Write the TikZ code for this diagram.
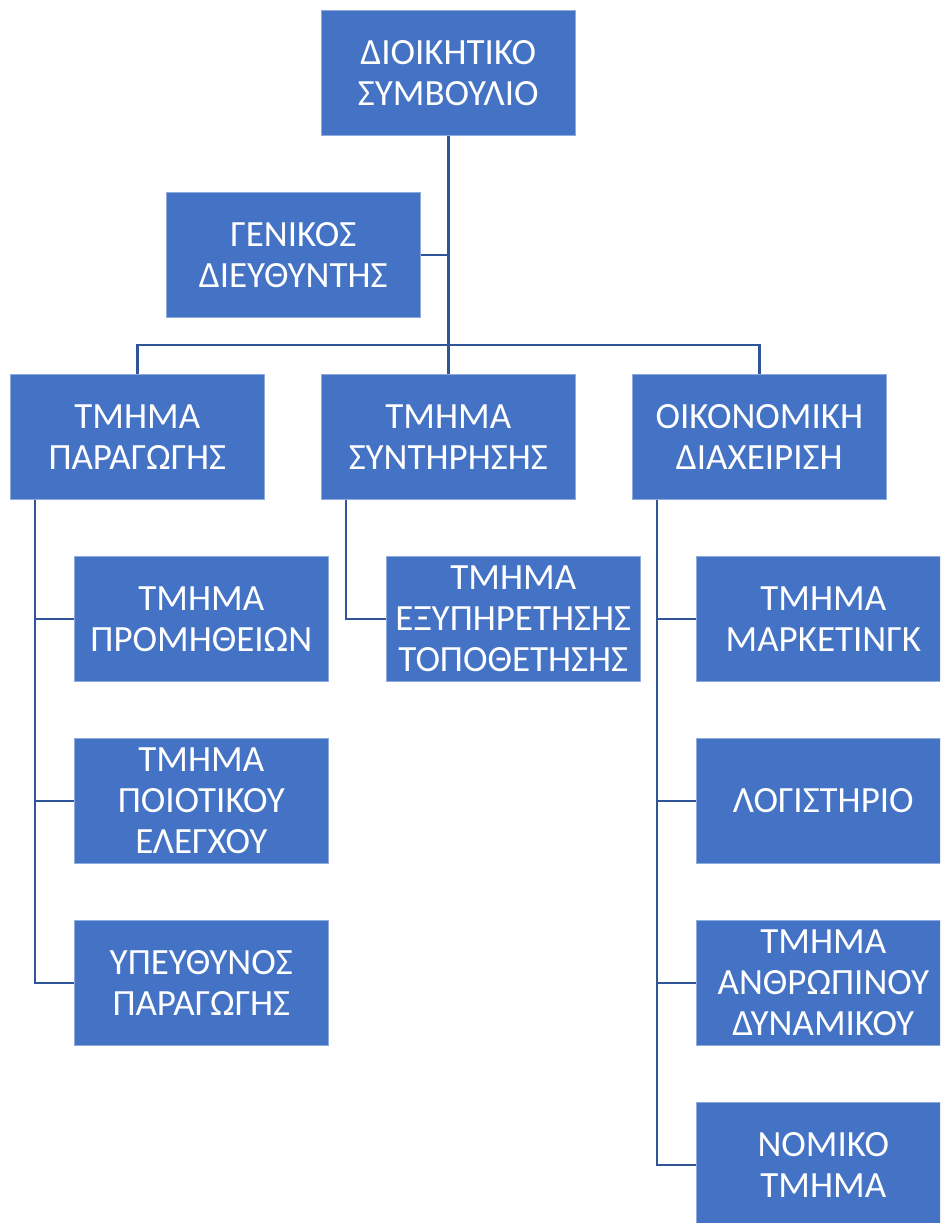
\documentclass[tikz,border=0pt]{standalone}
\usepackage{fontspec}
\setmainfont{Carlito}
\usetikzlibrary{calc}
\definecolor{boxblue}{HTML}{4472C4}
\definecolor{lineblue}{HTML}{2F5597}
\tikzset{
  orgbox/.style={fill=boxblue, draw=boxblue!60!white, line width=0.6pt, text=white, anchor=north west,
    minimum width=254pt, minimum height=125pt, inner sep=0pt, align=center,
    font=\fontsize{37}{41}\selectfont},
  conn/.style={draw=lineblue, line width=2.6pt}
}
\begin{document}
\begin{tikzpicture}[x=1pt,y=-1pt]
\clip (0,0) rectangle (940,1223);
\fill[white] (0,0) rectangle (940,1223);
% boxes
\node[orgbox] (top) at (321,10) {ΔΙΟΙΚΗΤΙΚΟ\\ΣΥΜΒΟΥΛΙΟ};
\node[orgbox] (gen) at (166,192) {ΓΕΝΙΚΟΣ\\ΔΙΕΥΘΥΝΤΗΣ};
\node[orgbox] (par) at (10,374) {ΤΜΗΜΑ\\ΠΑΡΑΓΩΓΗΣ};
\node[orgbox] (syn) at (321,374) {ΤΜΗΜΑ\\ΣΥΝΤΗΡΗΣΗΣ};
\node[orgbox] (oik) at (632,374) {ΟΙΚΟΝΟΜΙΚΗ\\ΔΙΑΧΕΙΡΙΣΗ};
\node[orgbox] (prom) at (74,556) {ΤΜΗΜΑ\\ΠΡΟΜΗΘΕΙΩΝ};
\node[orgbox] (poi) at (74,738) {ΤΜΗΜΑ\\ΠΟΙΟΤΙΚΟΥ\\ΕΛΕΓΧΟΥ};
\node[orgbox] (ypeu) at (74,920) {ΥΠΕΥΘΥΝΟΣ\\ΠΑΡΑΓΩΓΗΣ};
\node[orgbox] (exy) at (386,556) {ΤΜΗΜΑ\\ΕΞΥΠΗΡΕΤΗΣΗΣ\\ΤΟΠΟΘΕΤΗΣΗΣ};
\node[orgbox] (mark) at (696,556) {ΤΜΗΜΑ\\ΜΑΡΚΕΤΙΝΓΚ};
\node[orgbox] (log) at (696,738) {ΛΟΓΙΣΤΗΡΙΟ};
\node[orgbox] (anth) at (696,920) {ΤΜΗΜΑ\\ΑΝΘΡΩΠΙΝΟΥ\\ΔΥΝΑΜΙΚΟΥ};
\node[orgbox] (nom) at (696,1102) {ΝΟΜΙΚΟ\\ΤΜΗΜΑ};
% connectors
\coordinate (bus) at ($(par.north)+(0,-29)$);
\draw[conn] (top.south) -- (syn.north);
\draw[conn] (gen.east) -- (gen.east -| top.south);
\draw[conn] (par.north) -- (bus) -| (oik.north);
\coordinate (pl) at ($(par.south west)+(25,0)$);
\coordinate (sl) at ($(syn.south west)+(25,0)$);
\coordinate (ol) at ($(oik.south west)+(25,0)$);
\draw[conn] (pl) |- (ypeu.west);
\draw[conn] (prom.west) -- (prom.west -| pl);
\draw[conn] (poi.west) -- (poi.west -| pl);
\draw[conn] (sl) |- (exy.west);
\draw[conn] (ol) |- (nom.west);
\draw[conn] (mark.west) -- (mark.west -| ol);
\draw[conn] (log.west) -- (log.west -| ol);
\draw[conn] (anth.west) -- (anth.west -| ol);
\end{tikzpicture}
\end{document}
